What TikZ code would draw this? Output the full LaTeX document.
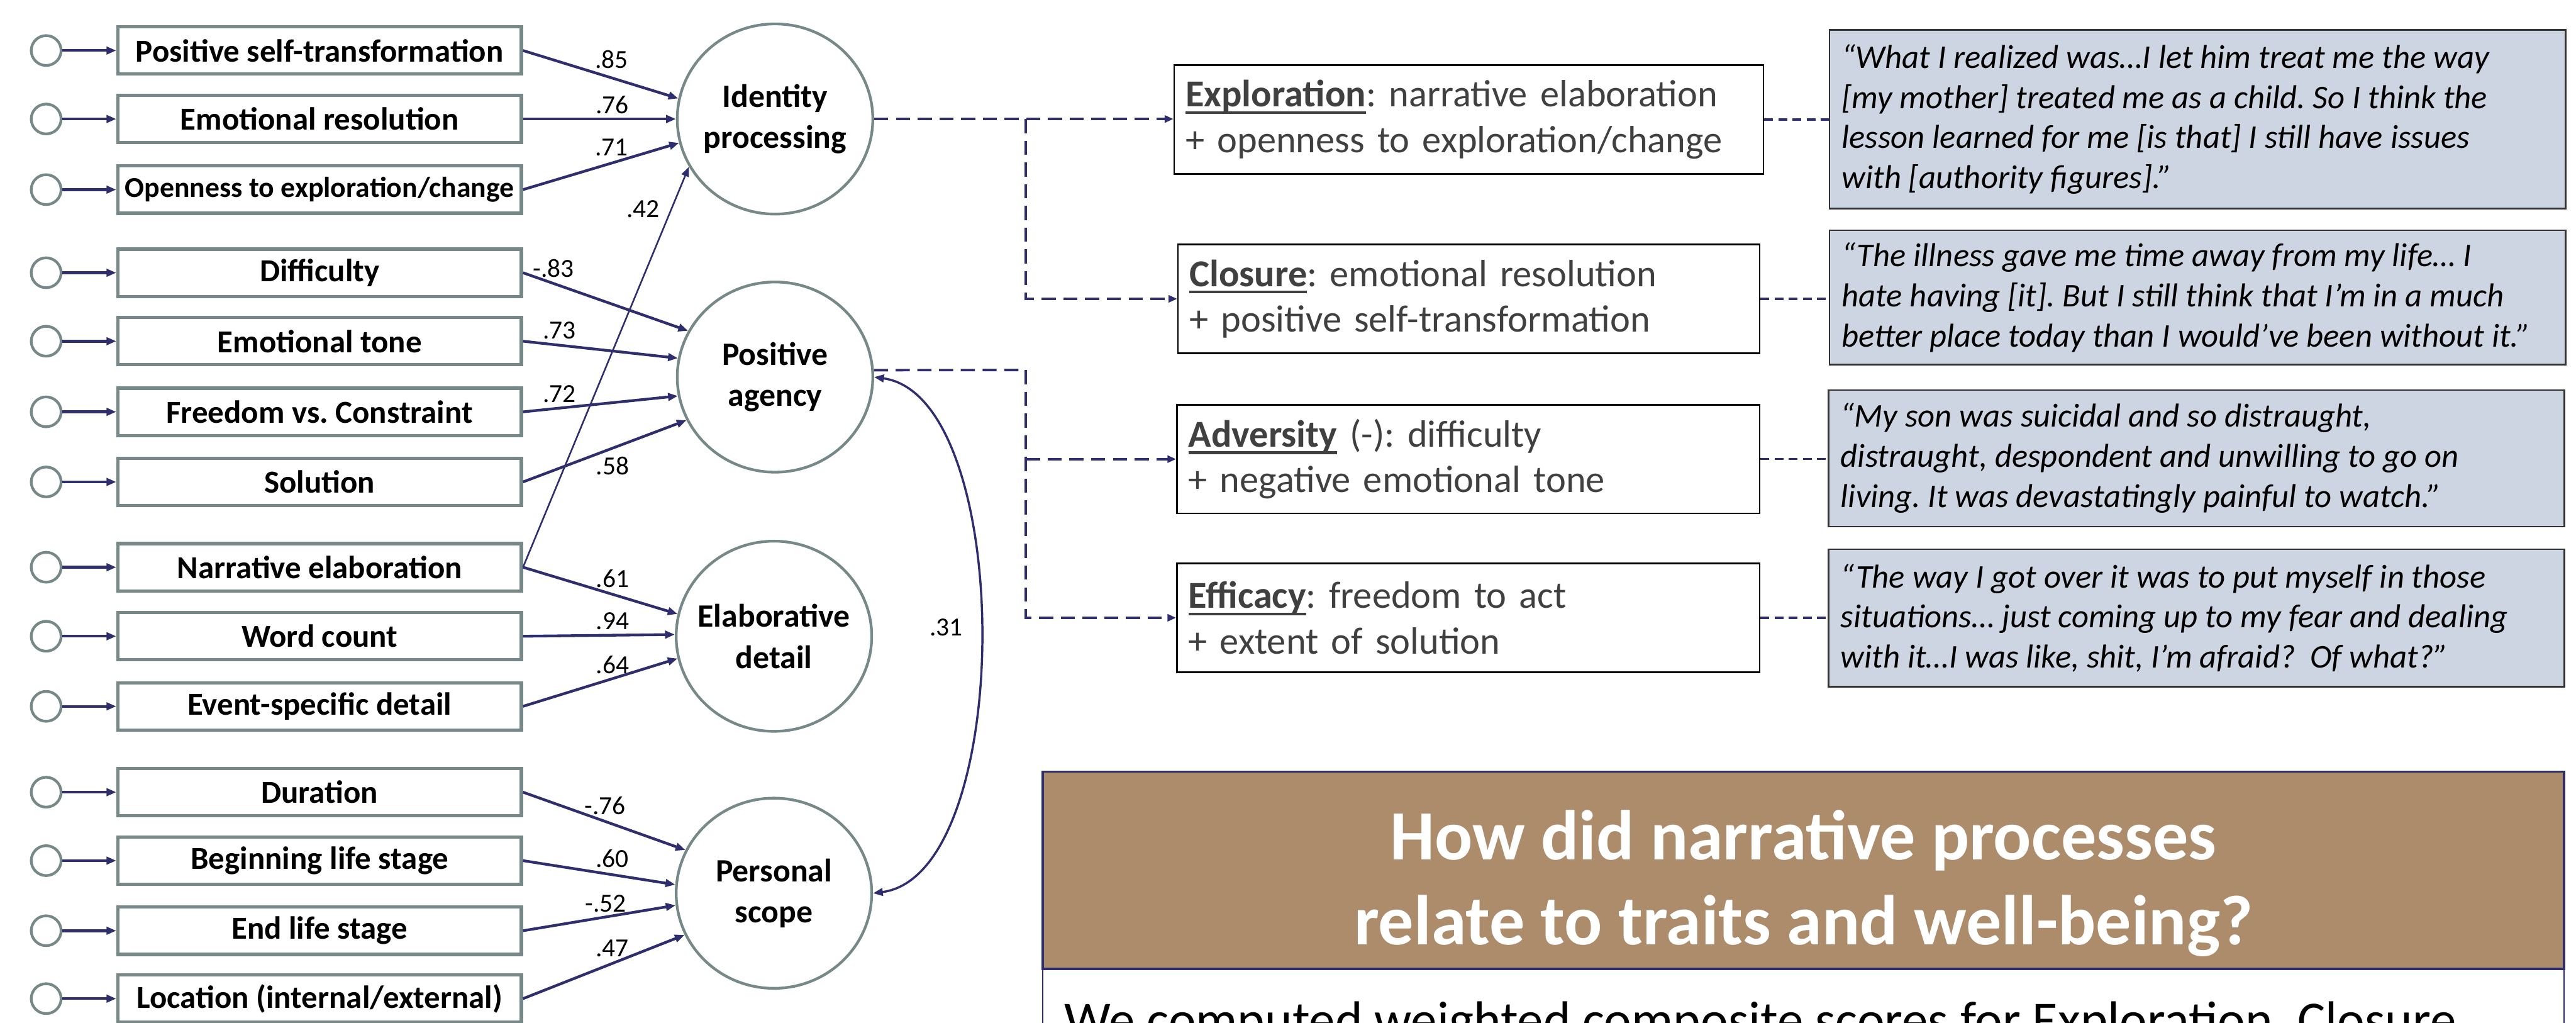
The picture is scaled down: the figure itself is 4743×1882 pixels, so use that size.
\documentclass[tikz,border=0pt]{standalone}
\usepackage{fontspec}
\setmainfont{Carlito}
\usetikzlibrary{arrows.meta,shapes.geometric}
\definecolor{navy}{RGB}{46,45,110}
\definecolor{boxgray}{RGB}{118,136,136}
\definecolor{quotefill}{RGB}{206,213,226}
\definecolor{titletan}{RGB}{173,140,107}
\definecolor{deftext}{RGB}{64,64,64}
\newsavebox{\ulbox}
\newcommand{\myul}[1]{\sbox{\ulbox}{#1}\rlap{\rule[-13pt]{\wd\ulbox}{5pt}}\usebox{\ulbox}}
\frenchspacing
\begin{document}
\frenchspacing
\begin{tikzpicture}[x=1pt,y=-1pt,
  ind/.style={draw=boxgray, line width=6pt, minimum width=743pt, minimum height=87pt, inner sep=0pt, font=\fontsize{59}{70}\selectfont\bfseries},
  err/.style={circle, draw=boxgray, line width=5pt, minimum size=55pt, inner sep=0pt},
  lat/.style={ellipse, draw=boxgray, line width=5pt, minimum width=360pt, minimum height=350pt, inner sep=0pt},
  lattxt/.style={align=center, inner sep=0pt, font=\fontsize{60}{76}\selectfont\bfseries},
  tip/.style={-{Triangle[length=18pt,width=14pt]}},
  earrow/.style={navy, line width=5pt, tip},
  load/.style={navy, line width=5pt, tip},
  thinload/.style={navy, line width=3pt, tip},
  lv/.style={inner sep=0pt, font=\fontsize{48}{48}\selectfont},
  dline/.style={navy, line width=4.5pt, dash pattern=on 26pt off 14pt},
  darrow/.style={dline, -{Triangle[length=16pt,width=13pt]}},
  qline/.style={navy, line width=4pt, dash pattern=on 16pt off 10pt},
  defbox/.style={draw=black, line width=3pt, fill=white, text=deftext, align=left, minimum height=200pt, inner xsep=21pt, inner ysep=0pt, font=\fontsize{70}{84}\selectfont},
  qbox/.style={draw=black!80, line width=3pt, fill=quotefill, minimum width=1355pt, inner sep=0pt},
  qtxt/.style={anchor=west, align=left, inner sep=0pt, font=\fontsize{61}{74}\selectfont\itshape}
]
\useasboundingbox (0,0) rectangle (4743,1882);
\fill[white] (0,0) rectangle (4743,1882);

% indicators
\node[ind] (i1) at (588.5,93) {Positive self-transformation};
\node[ind] (i2) at (588.5,219) {Emotional resolution};
\node[ind, font=\fontsize{53}{60}\selectfont\bfseries] (i3) at (588.5,349) {Openness to exploration/change};
\node[ind] (i4) at (588.5,502) {Difficulty};
\node[ind] (i5) at (588.5,628) {Emotional tone};
\node[ind] (i6) at (588.5,758) {Freedom vs. Constraint};
\node[ind] (i7) at (588.5,887) {Solution};
\node[ind] (i8) at (588.5,1044) {Narrative elaboration};
\node[ind] (i9) at (588.5,1171) {Word count};
\node[ind] (i10) at (588.5,1300) {Event-specific detail};
\node[ind] (i11) at (588.5,1458) {Duration};
\node[ind] (i12) at (588.5,1584) {Beginning life stage};
\node[ind] (i13) at (588.5,1713) {End life stage};
\node[ind] (i14) at (588.5,1838) {Location (internal/external)};

\foreach \n/\y in {1/93,2/219,3/349,4/502,5/628,6/758,7/887,8/1044,9/1171,10/1300,11/1458,12/1584,13/1713,14/1838}{
  \node[err] (e\n) at (85,\y) {};
  \draw[earrow] (e\n) -- (i\n);
}

% latents
\node[lat] (idp) at (1427,219) {};
\node[lattxt] (idpt) at (idp) {Identity\\processing};
\node[lat] (pa) at (1427,694) {};
\node[lattxt] (pat) at (pa) {Positive\\agency};
\node[lat] (ed) at (1425,1171) {};
\node[lattxt] (edt) at (ed) {Elaborative\\detail};
\node[lat] (ps) at (1425,1644) {};
\node[lattxt] (pst) at (ps) {Personal\\scope};

% loadings
\draw[load] (i1.east) -- (idp.168);
\draw[load] (i2.east) -- (idp.180);
\draw[load] (i3.east) -- (idp.194);
\draw[thinload] (i8.east) -- (idp.209);
\draw[load] (i4.east) -- (pa.152);
\draw[load] (i5.east) -- (pa.169);
\draw[load] (i6.east) -- (pa.191);
\draw[load] (i7.east) -- (pa.206);
\draw[load] (i8.east) -- (ed.167);
\draw[load] (i9.east) -- (ed.179);
\draw[load] (i10.east) -- (ed.193);
\draw[load] (i11.east) -- (ps.154);
\draw[load] (i12.east) -- (ps.175);
\draw[load] (i13.east) -- (ps.187);
\draw[load] (i14.east) -- (ps.205);

\node[lv] (l1) at (1126,109) {.85};
\node[lv] (l2) at (1127,193) {.76};
\node[lv] (l3) at (1126,271) {.71};
\node[lv] (l4) at (1184,385) {.42};
\node[lv] (l5) at (1019,494) {-.83};
\node[lv] (l6) at (1030,608) {.73};
\node[lv] (l7) at (1030,725) {.72};
\node[lv] (l8) at (1128,857) {.58};
\node[lv] (l9) at (1128,1065) {.61};
\node[lv] (l10) at (1128,1143) {.94};
\node[lv] (l11) at (1128,1224) {.64};
\node[lv] (l12) at (1114,1483) {-.76};
\node[lv] (l13) at (1127,1580) {.60};
\node[lv] (l14) at (1115,1663) {-.52};
\node[lv] (l15) at (1127,1746) {.47};
\node[lv] (l16) at (1742,1155) {.31};

% covariance
\draw[navy, line width=4pt, {Triangle[length=18pt,width=14pt]}-{Triangle[length=18pt,width=14pt]}]
  (pa.east) .. controls (1870,730) and (1870,1610) .. (ps.east);

% definition boxes
\node[defbox, minimum width=1085pt, text width=1043pt] (expl) at (2704.5,220)
  {\myul{\textbf{Exploration}}: narrative elaboration\\+ openness to exploration/change};
\node[defbox, minimum width=1071pt, text width=1029pt] (clos) at (2704.5,550)
  {\myul{\textbf{Closure}}: emotional resolution\\+ positive self-transformation};
\node[defbox, minimum width=1073pt, text width=1031pt] (adv) at (2703.5,845)
  {\myul{\textbf{Adversity}} (-): difficulty\\+ negative emotional tone};
\node[defbox, minimum width=1073pt, text width=1031pt] (eff) at (2703.5,1137)
  {\myul{\textbf{Efficacy}}: freedom to act\\+ extent of solution};

% quote boxes
\node[qbox, minimum height=329pt] (q1) at (4046,219.5) {};
\node[qtxt] (q1t) at ([xshift=24pt]q1.west)
  {“What I realized was…I let him treat me the way\\{}[my mother] treated me as a child. So I think the\\lesson learned for me [is that] I still have issues\\with [authority figures].”};
\node[qbox, minimum height=247pt] (q2) at (4046,547.5) {};
\node[qtxt] (q2t) at ([xshift=24pt]q2.west)
  {“The illness gave me time away from my life… I\\hate having [it]. But I still think that I’m in a much\\better place today than I would’ve been without it.”};
\node[qbox, minimum height=251pt] (q3) at (4044,843.5) {};
\node[qtxt] (q3t) at ([xshift=24pt]q3.west)
  {“My son was suicidal and so distraught,\\distraught, despondent and unwilling to go on\\living. It was devastatingly painful to watch.”};
\node[qbox, minimum height=253pt] (q4) at (4044,1137.5) {};
\node[qtxt] (q4t) at ([xshift=24pt]q4.west)
  {“The way I got over it was to put myself in those\\situations… just coming up to my fear and dealing\\with it…I was like, shit, I'm afraid?~ Of what?”};

% dashed connectors
\coordinate (j1) at (1889,219);
\coordinate (j2) at (1889,681);
\draw[darrow] (idp.east) -- (idp.east -| expl.west);
\draw[darrow] (j1) |- (clos.west);
\draw[dline] (pa.4) -- (j2);
\draw[darrow] (j2) |- (eff.west);
\draw[darrow] (j2 |- adv.west) -- (adv.west);

\draw[qline] (expl.east) -- (expl.east -| q1.west);
\draw[qline] (clos.east) -- (clos.east -| q2.west);
\draw[qline] (adv.east) -- (adv.east -| q3.west);
\draw[qline] (eff.east) -- (eff.east -| q4.west);

% title panel
\node[draw=navy, line width=3pt, fill=white, minimum width=2801pt, minimum height=400pt, anchor=north, inner sep=0pt] (panel) at (3320.5,1783) {};
\node[fill=titletan, draw=navy, line width=4pt, minimum width=2801pt, minimum height=363pt, inner sep=0pt] (title) at (3320.5,1601.5) {};
\node[text=white, align=center, inner sep=0pt, font=\fontsize{130}{156}\selectfont\bfseries] (titletxt) at (3320.5,1626)
  {How did narrative processes\\relate to traits and well-being?};
\node[anchor=base west, inner sep=0pt, font=\fontsize{96}{115}\selectfont] (body) at (1960,1910)
  {We computed weighted composite scores for Exploration, Closure,};
\end{tikzpicture}
\end{document}
